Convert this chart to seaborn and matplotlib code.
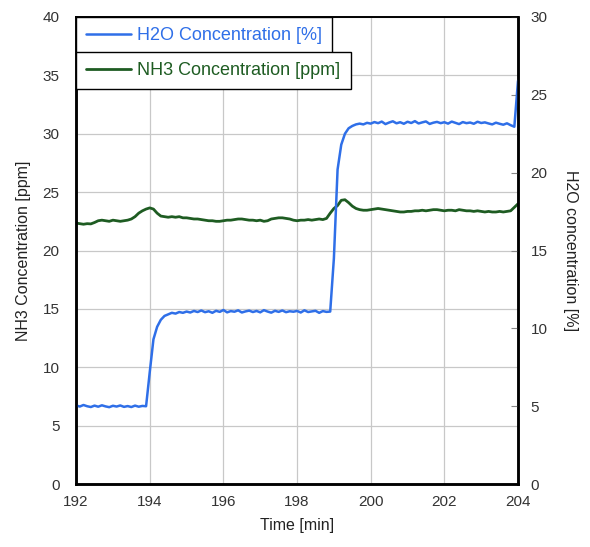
import matplotlib
matplotlib.use("Agg")
import matplotlib.pyplot as plt
import seaborn as sns
from matplotlib.lines import Line2D

# time axis [min]
time_min = [
    192.0, 192.1, 192.2, 192.3, 192.4, 192.5, 192.6, 192.7, 192.8, 192.9,
    193.0, 193.1, 193.2, 193.3, 193.4, 193.5, 193.6, 193.7, 193.8, 193.9,
    194.0, 194.1, 194.2, 194.3, 194.4, 194.5, 194.6, 194.7, 194.8, 194.9,
    195.0, 195.1, 195.2, 195.3, 195.4, 195.5, 195.6, 195.7, 195.8, 195.9,
    196.0, 196.1, 196.2, 196.3, 196.4, 196.5, 196.6, 196.7, 196.8, 196.9,
    197.0, 197.1, 197.2, 197.3, 197.4, 197.5, 197.6, 197.7, 197.8, 197.9,
    198.0, 198.1, 198.2, 198.3, 198.4, 198.5, 198.6, 198.7, 198.8, 198.9,
    199.0, 199.1, 199.2, 199.3, 199.4, 199.5, 199.6, 199.7, 199.8, 199.9,
    200.0, 200.1, 200.2, 200.3, 200.4, 200.5, 200.6, 200.7, 200.8, 200.9,
    201.0, 201.1, 201.2, 201.3, 201.4, 201.5, 201.6, 201.7, 201.8, 201.9,
    202.0, 202.1, 202.2, 202.3, 202.4, 202.5, 202.6, 202.7, 202.8, 202.9,
    203.0, 203.1, 203.2, 203.3, 203.4, 203.5, 203.6, 203.7, 203.8, 203.9,
    204.0,
]

# H2O concentration [%] (right axis)
h2o_pct = [
    5.05, 4.98, 5.08, 5.00, 4.95, 5.04, 4.97, 5.06, 4.99, 4.94,
    5.03, 4.98, 5.05, 4.96, 5.01, 4.95, 5.04, 4.97, 5.02, 5.00,
    7.20, 9.30, 10.10, 10.55, 10.80, 10.90, 11.00, 10.95, 11.05, 11.00,
    11.08, 11.02, 11.12, 11.05, 11.15, 11.04, 11.10, 11.00, 11.13, 11.06,
    11.18, 11.03, 11.11, 11.07, 11.16, 11.02, 11.09, 11.14, 11.05, 11.12,
    11.03, 11.17, 11.08, 11.01, 11.13, 11.06, 11.15, 11.04, 11.10, 11.07,
    11.12, 11.02, 11.16, 11.05, 11.09, 11.13, 11.00, 11.11, 11.06, 11.08,
    14.50, 20.20, 21.80, 22.50, 22.85, 23.00, 23.10, 23.15, 23.10, 23.20,
    23.15, 23.25, 23.18, 23.28, 23.12, 23.22, 23.30, 23.17, 23.24, 23.14,
    23.27, 23.19, 23.31, 23.16, 23.23, 23.29, 23.13, 23.21, 23.26, 23.18,
    23.24, 23.15, 23.28, 23.20, 23.12, 23.25, 23.18, 23.22, 23.14, 23.27,
    23.19, 23.23, 23.16, 23.10, 23.21, 23.14, 23.08, 23.17, 23.05, 22.95,
    25.90,
]

# NH3 concentration [ppm] (left axis)
nh3_ppm = [
    22.35, 22.30, 22.25, 22.30, 22.28, 22.40, 22.55, 22.60, 22.55, 22.50,
    22.60, 22.55, 22.50, 22.55, 22.60, 22.70, 22.90, 23.20, 23.40, 23.55,
    23.65, 23.55, 23.20, 22.95, 22.90, 22.85, 22.90, 22.85, 22.90, 22.80,
    22.80, 22.75, 22.70, 22.70, 22.65, 22.60, 22.55, 22.55, 22.50, 22.50,
    22.55, 22.60, 22.60, 22.65, 22.70, 22.70, 22.65, 22.60, 22.60, 22.55,
    22.60, 22.50, 22.55, 22.70, 22.75, 22.80, 22.80, 22.75, 22.70, 22.60,
    22.55, 22.60, 22.60, 22.65, 22.60, 22.65, 22.70, 22.65, 22.75, 23.20,
    23.60, 23.85, 24.30, 24.35, 24.10, 23.80, 23.60, 23.50, 23.45, 23.45,
    23.50, 23.55, 23.60, 23.55, 23.50, 23.45, 23.40, 23.35, 23.30, 23.30,
    23.35, 23.35, 23.40, 23.40, 23.45, 23.40, 23.45, 23.50, 23.50, 23.45,
    23.40, 23.45, 23.45, 23.40, 23.50, 23.45, 23.40, 23.40, 23.35, 23.40,
    23.35, 23.30, 23.35, 23.30, 23.30, 23.35, 23.30, 23.35, 23.40, 23.70,
    24.00,
]

x_ticks = [192, 194, 196, 198, 200, 202, 204]
left_ticks = [0, 5, 10, 15, 20, 25, 30, 35, 40]
right_ticks = [0, 5, 10, 15, 20, 25, 30]

blue = "#2f6fe8"
green = "#1e5c22"

sns.set_style("white")
plt.rcParams["font.family"] = ["Liberation Sans", "DejaVu Sans"]

fig = plt.figure(figsize=(5.9, 5.47), dpi=100)
ax = fig.add_axes([0.129, 0.115, 0.749, 0.854])
ax2 = ax.twinx()

sns.lineplot(x=time_min, y=nh3_ppm, ax=ax, color=green, linewidth=2.0)
sns.lineplot(x=time_min, y=h2o_pct, ax=ax2, color=blue, linewidth=1.8)

ax.set_xlim(192, 204)
ax.set_ylim(0, 40)
ax2.set_ylim(0, 30)
ax.set_xticks(x_ticks)
ax.set_yticks(left_ticks)
ax2.set_yticks(right_ticks)

ax.grid(True, color="#c8c8c8", linewidth=0.9)
ax2.grid(False)

ax.tick_params(axis="both", length=0, labelsize=11, labelcolor="#333333")
ax.tick_params(axis="y", pad=12)
ax.tick_params(axis="x", pad=8)
ax2.tick_params(axis="y", direction="in", length=5, width=0.8, color="#888888",
                labelsize=11, labelcolor="#333333", pad=9)

ax.set_xlabel("Time [min]", fontsize=11.5, color="#222222", labelpad=6)
ax.set_ylabel("NH3 Concentration [ppm]", fontsize=11.5, color="#222222", labelpad=8)
ax2.set_ylabel("H2O concentration [%]", fontsize=11.5, color="#222222",
               rotation=270, labelpad=22)

for a in (ax, ax2):
    for side in ("left", "bottom", "right"):
        a.spines[side].set_linewidth(1.8)
        a.spines[side].set_color("black")
    a.spines["top"].set_linewidth(1.2)
    a.spines["top"].set_color("black")

h_blue = [Line2D([], [], color=blue, linewidth=1.8)]
h_green = [Line2D([], [], color=green, linewidth=2.0)]

legend_kw = dict(loc="upper left", borderaxespad=0, fancybox=False,
                 framealpha=1, edgecolor="black", fontsize=13,
                 handlelength=2.5, handletextpad=0.35, borderpad=0.55)

leg1 = ax2.legend(h_blue, ["H2O Concentration [%]"], bbox_to_anchor=(0.0, 1.0),
                  labelcolor=blue, **legend_kw)
leg1.get_frame().set_linewidth(1.0)

leg2 = ax2.legend(h_green, ["NH3 Concentration [ppm]"], bbox_to_anchor=(0.0, 0.925),
                  labelcolor=green, **legend_kw)
leg2.get_frame().set_linewidth(1.0)
ax2.add_artist(leg1)

fig.savefig("out.png", dpi=100)
